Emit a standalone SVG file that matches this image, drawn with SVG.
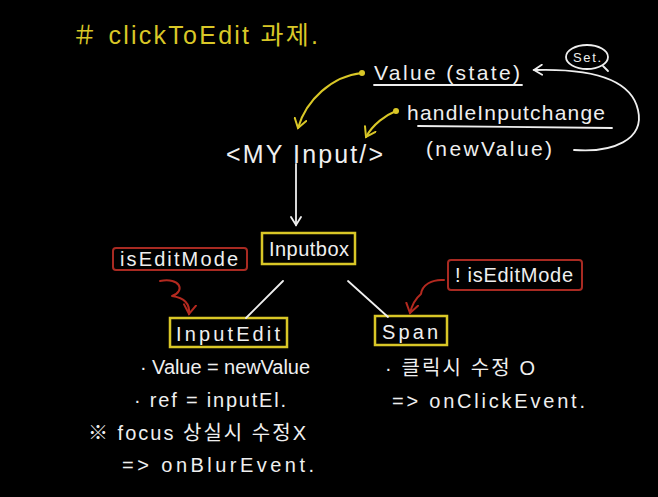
<svg xmlns="http://www.w3.org/2000/svg" width="658" height="497" viewBox="0 0 658 497">
<style>
text{font-family:"Liberation Sans","Noto Sans CJK KR",sans-serif;fill:#efefef}
.y{fill:#d9c727}
.t{font-size:21px}
.s{font-size:20px}
.w{fill:none;stroke:#efefef;stroke-width:1.8;stroke-linecap:round;stroke-linejoin:round}
.yl{fill:none;stroke:#d9c727;stroke-width:2;stroke-linecap:round;stroke-linejoin:round}
.r{fill:none;stroke:#b3291f;stroke-width:2;stroke-linecap:round;stroke-linejoin:round}
.yb{fill:none;stroke:#d9c727;stroke-width:2.5}
.rb{fill:none;stroke:#a82a22;stroke-width:2}
</style>
<defs>
<marker id="aw" markerWidth="12" markerHeight="12" refX="9" refY="6" orient="auto" markerUnits="userSpaceOnUse"><path d="M1,1 L9,6 L1,11" fill="none" stroke="#efefef" stroke-width="1.8" stroke-linecap="round"/></marker>
<marker id="ay" markerWidth="14" markerHeight="14" refX="10" refY="7" orient="auto" markerUnits="userSpaceOnUse"><path d="M1,1 L10,7 L1,13" fill="none" stroke="#d9c727" stroke-width="2" stroke-linecap="round"/></marker>
<marker id="ar" markerWidth="14" markerHeight="14" refX="10" refY="7" orient="auto" markerUnits="userSpaceOnUse"><path d="M1,1 L10,7 L1,13" fill="none" stroke="#b3291f" stroke-width="2" stroke-linecap="round"/></marker>
</defs>
<rect width="658" height="497" fill="#000"/>

<g id="title"><text class="y" x="72" y="44" font-size="25" textLength="246">＃ clickToEdit 과제.</text></g>

<g id="value-state"><text class="t" x="374" y="80" textLength="146">Value (state)</text><line class="w" x1="374" y1="85" x2="522" y2="85" stroke-width="1.4"/></g>

<g id="set"><ellipse class="w" cx="587" cy="57" rx="21" ry="12" stroke-width="1.5"/><text x="573" y="62" font-size="13" textLength="28">Set.</text></g>

<g id="handle"><text class="t" x="407" y="120" textLength="198">handleInputchange</text><line class="w" x1="418" y1="126" x2="612" y2="128" stroke-width="1.4"/><text class="t" x="426" y="156" textLength="126">(newValue)</text></g>

<g id="myinput"><text x="226" y="163" font-size="25" textLength="157">&lt;MY Input/&gt;</text></g>

<g id="inputbox"><rect class="yb" x="262" y="233" width="93" height="31"/><text class="s" x="269" y="256" textLength="80">Inputbox</text></g>

<g id="iseditmode"><rect class="rb" x="113" y="248" width="134" height="22" rx="3"/><text class="s" x="120" y="266" textLength="118">isEditMode</text></g>

<g id="noteditmode"><rect class="rb" x="448" y="260" width="134" height="30" rx="3"/><text class="s" x="455" y="282" textLength="118">! isEditMode</text></g>

<g id="inputedit"><rect class="yb" x="170" y="318" width="117" height="29"/><text class="s" x="176" y="341" textLength="104">InputEdit</text></g>

<g id="span"><rect class="yb" x="375" y="316" width="72" height="29"/><text class="s" x="382" y="339" textLength="56">Span</text></g>

<g id="notes-left">
<text class="s" x="140" y="374" textLength="170">· Value = newValue</text>
<text class="s" x="134" y="407" textLength="152">· ref = inputEl.</text>
<text class="s" x="88" y="440" textLength="218">※ focus 상실시 수정X</text>
<text class="s" x="122" y="472" textLength="192">=&gt; onBlurEvent.</text>
</g>
<g id="notes-right">
<text class="s" x="385" y="375" textLength="150">· 클릭시 수정 O</text>
<text class="s" x="392" y="408" textLength="193">=&gt; onClickEvent.</text>
</g>

<g id="connectors">
<circle cx="362" cy="73" r="3" fill="#d9c727"/>
<path class="yl" d="M362,73 C332,76 306,100 298,128" marker-end="url(#ay)"/>
<circle cx="396" cy="111" r="3" fill="#d9c727"/>
<path class="yl" d="M396,111 C386,115 373,124 366,137" marker-end="url(#ay)"/>
<path class="w" d="M574,150 C612,153 645,140 638,110 C632,82 600,68 534,70" marker-end="url(#aw)"/>
<path class="w" d="M603,66 L608,71" stroke-width="1.5"/>
<path class="w" d="M296,164 L296,225" marker-end="url(#aw)"/>
<path class="w" d="M283,281 L246,318"/>
<path class="w" d="M348,281 L388,317"/>
<path class="r" d="M160,281 C180,277 186,291 172,296 C186,298 190,305 189,314" marker-end="url(#ar)"/>
<path class="r" d="M444,280 C432,279 422,285 421,294 C415,299 412,305 410,313" marker-end="url(#ar)"/>
</g>
</svg>
